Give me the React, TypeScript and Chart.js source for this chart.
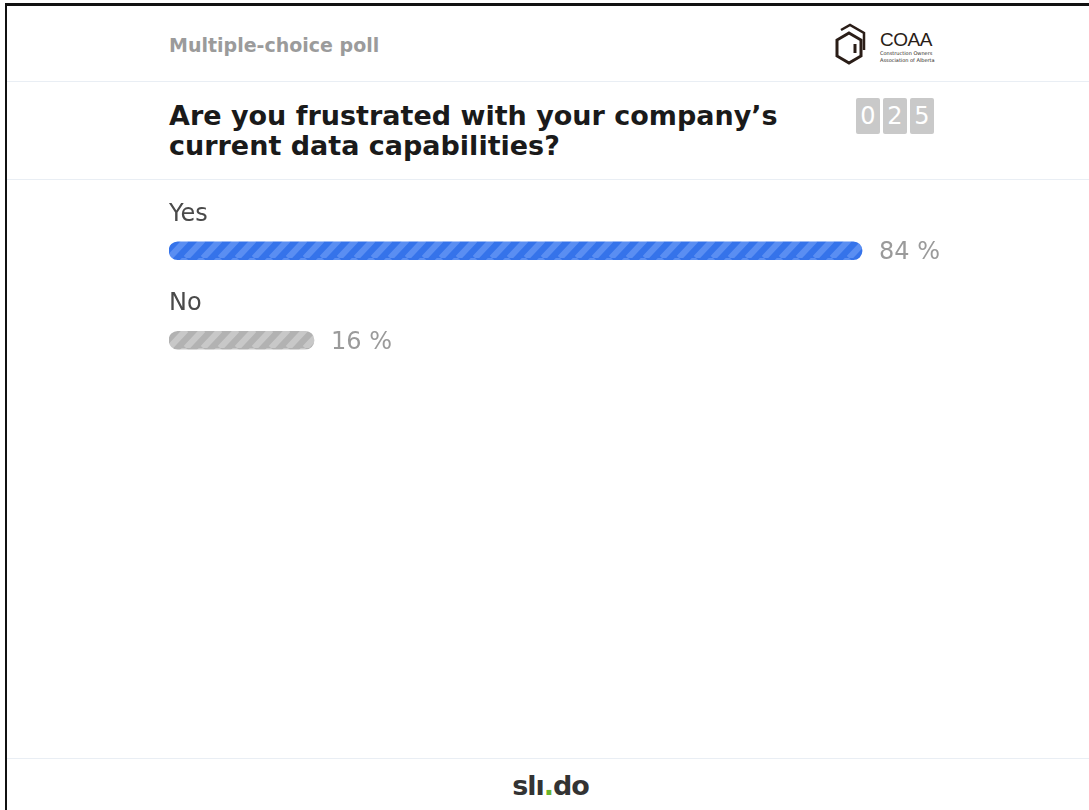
import React, { useEffect, useRef } from "react";
import { Chart, registerables } from "chart.js";

Chart.register(...registerables);

const categories = ["Yes", "No"];
const percentValues = [84, 16];
const valueLabels = ["84 %", "16 %"];
const counterDigits = ["0", "2", "5"];

function makeStripes(base: string, light: string): CanvasPattern | string {
  const w = 17;
  const h = 18;
  const c = document.createElement("canvas");
  c.width = w;
  c.height = h;
  const ctx = c.getContext("2d");
  if (!ctx) return base;
  ctx.fillStyle = base;
  ctx.fillRect(0, 0, w, h);
  ctx.strokeStyle = light;
  ctx.lineWidth = (w / 2) * (h / Math.sqrt(w * w + h * h));
  ctx.beginPath();
  for (let k = -1; k <= 1; k++) {
    ctx.moveTo(k * w, h);
    ctx.lineTo((k + 1) * w, 0);
  }
  ctx.stroke();
  const p = ctx.createPattern(c, "repeat");
  return p || base;
}

const labelPlugin = {
  id: "pollLabels",
  afterDatasetsDraw(chart: any) {
    const ctx = chart.ctx;
    const meta = chart.getDatasetMeta(0);
    ctx.save();
    meta.data.forEach((bar: any, i: number) => {
      ctx.textBaseline = "alphabetic";
      ctx.textAlign = "left";
      ctx.fillStyle = "#4a4a4a";
      ctx.font = '24px "DejaVu Sans"';
      ctx.fillText(categories[i], bar.base, bar.y - 30);
      ctx.fillStyle = "#9a9a9a";
      ctx.font = '24px "DejaVu Sans"';
      ctx.fillText(valueLabels[i], bar.x + 17, bar.y + 8.5);
    });
    ctx.restore();
  },
};

function PollChart() {
  const ref = useRef<HTMLCanvasElement | null>(null);
  useEffect(() => {
    if (!ref.current) return;
    const blue = makeStripes("#3573ea", "#5a8ef2");
    const gray = makeStripes("#b2b2b2", "#c8c8c8");
    const chart = new Chart(ref.current, {
      type: "bar",
      data: {
        labels: categories,
        datasets: [
          {
            data: percentValues,
            backgroundColor: [blue, gray] as any,
            barThickness: 18,
            borderRadius: 9,
            borderSkipped: false,
            base: -2,
          } as any,
        ],
      },
      options: {
        indexAxis: "y",
        animation: false,
        responsive: false,
        maintainAspectRatio: false,
        layout: { padding: { left: 0, right: 78, top: 20, bottom: 10 } },
        plugins: {
          legend: { display: false },
          tooltip: { enabled: false },
        },
        scales: {
          x: { type: "linear", min: -2, max: 100, display: false },
          y: { type: "category", display: false },
        },
      },
      plugins: [labelPlugin],
    });
    return () => chart.destroy();
  }, []);
  return (
    <canvas
      ref={ref}
      width={900}
      height={209}
      style={{ position: "absolute", left: 169, top: 186, width: 900, height: 209 }}
    />
  );
}

export default function App() {
  const line = (top: number) => (
    <div
      style={{
        position: "absolute",
        left: 7,
        right: 0,
        top,
        height: 1,
        background: "#e9eef4",
      }}
    />
  );
  return (
    <div
      style={{
        position: "fixed",
        left: 0,
        top: 0,
        width: 1089,
        height: 810,
        background: "#ffffff",
        fontFamily: '"DejaVu Sans", sans-serif',
        overflow: "hidden",
      }}
    >
      <div
        style={{
          position: "absolute",
          left: 5,
          top: 3,
          right: 0,
          bottom: 0,
          borderTop: "3px solid #111",
          borderLeft: "2px solid #111",
        }}
      />
      <div
        style={{
          position: "absolute",
          left: 169,
          top: 34,
          fontSize: 19,
          fontWeight: "bold",
          color: "#9b9b9b",
          lineHeight: "22px",
          whiteSpace: "nowrap",
        }}
      >
        Multiple-choice poll
      </div>
      <div style={{ position: "absolute", left: 834, top: 20, width: 120, height: 50 }}>
        <svg width={32} height={48} viewBox="0 0 32 48" style={{ position: "absolute", left: 0, top: 0 }}>
          <polygon
            points="15,13 27,20 27,36 15,43 3,36 3,20"
            fill="none"
            stroke="#2a1d17"
            strokeWidth={3}
          />
          <polyline points="7,10 16,5 30,13 30,30" fill="none" stroke="#2a1d17" strokeWidth={2.5} />
          <line x1={21} y1={24} x2={21} y2={33} stroke="#2a1d17" strokeWidth={3} />
        </svg>
        <div
          style={{
            position: "absolute",
            left: 46,
            top: 10,
            fontSize: 19,
            color: "#2a1d17",
            fontFamily: '"Liberation Sans", sans-serif',
            letterSpacing: -0.5,
            lineHeight: "20px",
          }}
        >
          COAA
        </div>
        <div
          style={{
            position: "absolute",
            left: 46,
            top: 30,
            fontSize: 5,
            color: "#2a1d17",
            lineHeight: "7px",
            whiteSpace: "nowrap",
          }}
        >
          Construction Owners
          <br />
          Association of Alberta
        </div>
      </div>
      {line(81)}
      <div
        style={{
          position: "absolute",
          left: 169,
          top: 101,
          width: 680,
          fontSize: 27,
          fontWeight: "bold",
          color: "#1a1a1a",
          lineHeight: "30px",
          whiteSpace: "nowrap",
        }}
      >
        Are you frustrated with your company’s
        <br />
        current data capabilities?
      </div>
      <div style={{ position: "absolute", left: 856, top: 98, display: "flex", gap: 3 }}>
        {counterDigits.map((d, i) => (
          <div
            key={i}
            style={{
              width: 24,
              height: 36,
              background: "#c9c9c9",
              color: "#ffffff",
              fontSize: 24,
              lineHeight: "36px",
              textAlign: "center",
              borderRadius: 2,
            }}
          >
            {d}
          </div>
        ))}
      </div>
      {line(179)}
      <PollChart />
      {line(758)}
      <div
        style={{
          position: "absolute",
          left: 12,
          right: 0,
          top: 770,
          textAlign: "center",
          fontSize: 27,
          fontWeight: "bold",
          color: "#333333",
          lineHeight: "32px",
          letterSpacing: -1,
        }}
      >
        slı<span style={{ color: "#6ab42d" }}>.</span>do
      </div>
    </div>
  );
}
